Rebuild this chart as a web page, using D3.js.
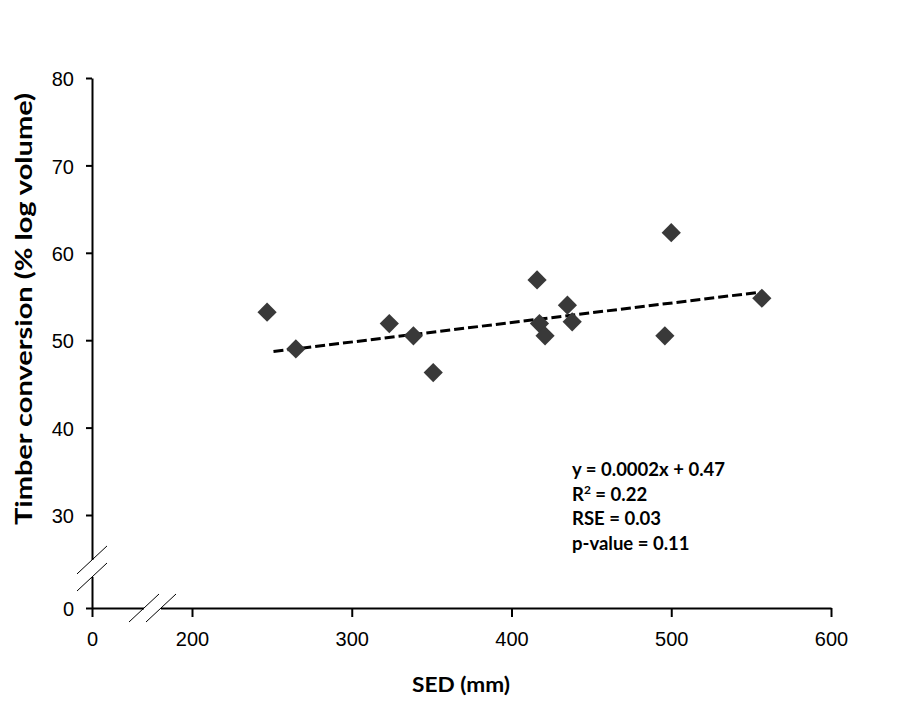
<!DOCTYPE html>
<html>
<head>
<meta charset="utf-8">
<script src="https://cdn.jsdelivr.net/npm/d3@7"></script>
<style>
  body { margin: 0; background: #fff; }
  .axis text { font-family: "Liberation Sans", Arial, sans-serif; font-size: 20px; fill: #000; }
  .axis path, .axis line { stroke: #000; stroke-width: 2; }
  .title { font-family: Lato, "Open Sans", sans-serif; font-weight: bold; fill: #000; }
</style>
</head>
<body>
<svg class="chart"></svg>
<script>
// values
var sed =        [247, 265, 323.5, 338.6, 351, 416, 417.5, 421, 435, 438, 496, 500, 556.7];
var conversion = [53.2, 49.0, 51.9, 50.5, 46.3, 56.9, 51.9, 50.5, 54.0, 52.1, 50.5, 62.3, 54.8];

// fitted line as drawn (ends)
var trendX = [251, 556];
var trendY = [48.7, 55.5];

var xTicks = [0, 200, 300, 400, 500, 600];
var yTicks = [0, 30, 40, 50, 60, 70, 80];

// broken axes: piecewise domains
var xDomain = [0, 200, 600];
var yDomain = [0, 30, 80];
var xBreak = [104, 138];
var yBreak = [10, 15.5];

var statLines = ["y = 0.0002x + 0.47", "R|2| = 0.22", "RSE = 0.03", "p-value = 0.11"];

var margin = {top: 78, right: 71, bottom: 95, left: 92},
    width = 902 - margin.left - margin.right,
    height = 703 - margin.top - margin.bottom;

var chart = d3.select('.chart')
    .attr('width', 902)
    .attr('height', 703);

var x = d3.scaleLinear().domain(xDomain).range([0, 100, width]),
    y = d3.scaleLinear().domain(yDomain).range([height, height - 93, 0]);

var g = chart.append('g')
    .attr('transform', 'translate(' + margin.left + ',' + margin.top + ')');

// x axis
var gx = g.append('g')
    .attr('class', 'axis')
    .attr('transform', 'translate(0,' + height + ')')
    .call(d3.axisBottom(x).tickValues(xTicks).tickSize(9).tickSizeOuter(0).tickPadding(15));

// y axis
var gy = g.append('g')
    .attr('class', 'axis')
    .call(d3.axisLeft(y).tickValues(yTicks).tickSize(6).tickSizeOuter(0).tickPadding(12));
gy.selectAll('.tick text').attr('dy', '0.38em');

// gaps in the axis lines
g.append('line')
    .attr('x1', x(xBreak[0])).attr('x2', x(xBreak[1]))
    .attr('y1', height).attr('y2', height)
    .attr('stroke', '#fff').attr('stroke-width', 4);
g.append('line')
    .attr('x1', 0).attr('x2', 0)
    .attr('y1', y(yBreak[0])).attr('y2', y(yBreak[1]))
    .attr('stroke', '#fff').attr('stroke-width', 4);

// break slashes
function slash(cx, cy) {
  g.append('line')
    .attr('x1', cx - 15).attr('y1', cy + 14)
    .attr('x2', cx + 15).attr('y2', cy - 14)
    .attr('stroke', '#000').attr('stroke-width', 1);
}
xBreak.forEach(function(d) { slash(x(d), height); });
yBreak.forEach(function(d) { slash(0, y(d)); });

// trend line
g.append('line')
    .attr('x1', x(trendX[0])).attr('y1', y(trendY[0]))
    .attr('x2', x(trendX[1])).attr('y2', y(trendY[1]))
    .attr('stroke', '#000')
    .attr('stroke-width', 3)
    .attr('stroke-dasharray', '10,4');

// points
var diamond = d3.symbol().type(d3.symbolSquare).size(185);
g.selectAll('.pt')
    .data(sed)
  .enter().append('path')
    .attr('class', 'pt')
    .attr('d', diamond)
    .attr('fill', '#393939')
    .attr('transform', function(d, i) {
      return 'translate(' + x(d) + ',' + y(conversion[i]) + ') rotate(45)';
    });

// stats text
var stats = g.append('text')
    .attr('class', 'title')
    .style('font-size', '18.5px');
statLines.forEach(function(s, i) {
  var parts = s.split('|');
  stats.append('tspan')
    .attr('x', 480)
    .attr('y', 398 + i * 24.5)
    .text(parts[0]);
  if (parts.length > 1) {
    stats.append('tspan').attr('dy', -7).style('font-size', '12px').text(parts[1]);
    stats.append('tspan').attr('dy', 7).text(parts[2]);
  }
});

// axis titles
chart.append('text')
    .attr('class', 'title')
    .attr('x', 412)
    .attr('y', 692)
    .attr('textLength', 98)
    .attr('lengthAdjust', 'spacingAndGlyphs')
    .style('font-size', '21px')
    .text('SED (mm)');

chart.append('text')
    .attr('class', 'title')
    .attr('transform', 'translate(32,525) rotate(-90)')
    .attr('textLength', 432)
    .attr('lengthAdjust', 'spacingAndGlyphs')
    .style('font-size', '22px')
    .text('Timber conversion (% log volume)');
</script>
</body>
</html>
